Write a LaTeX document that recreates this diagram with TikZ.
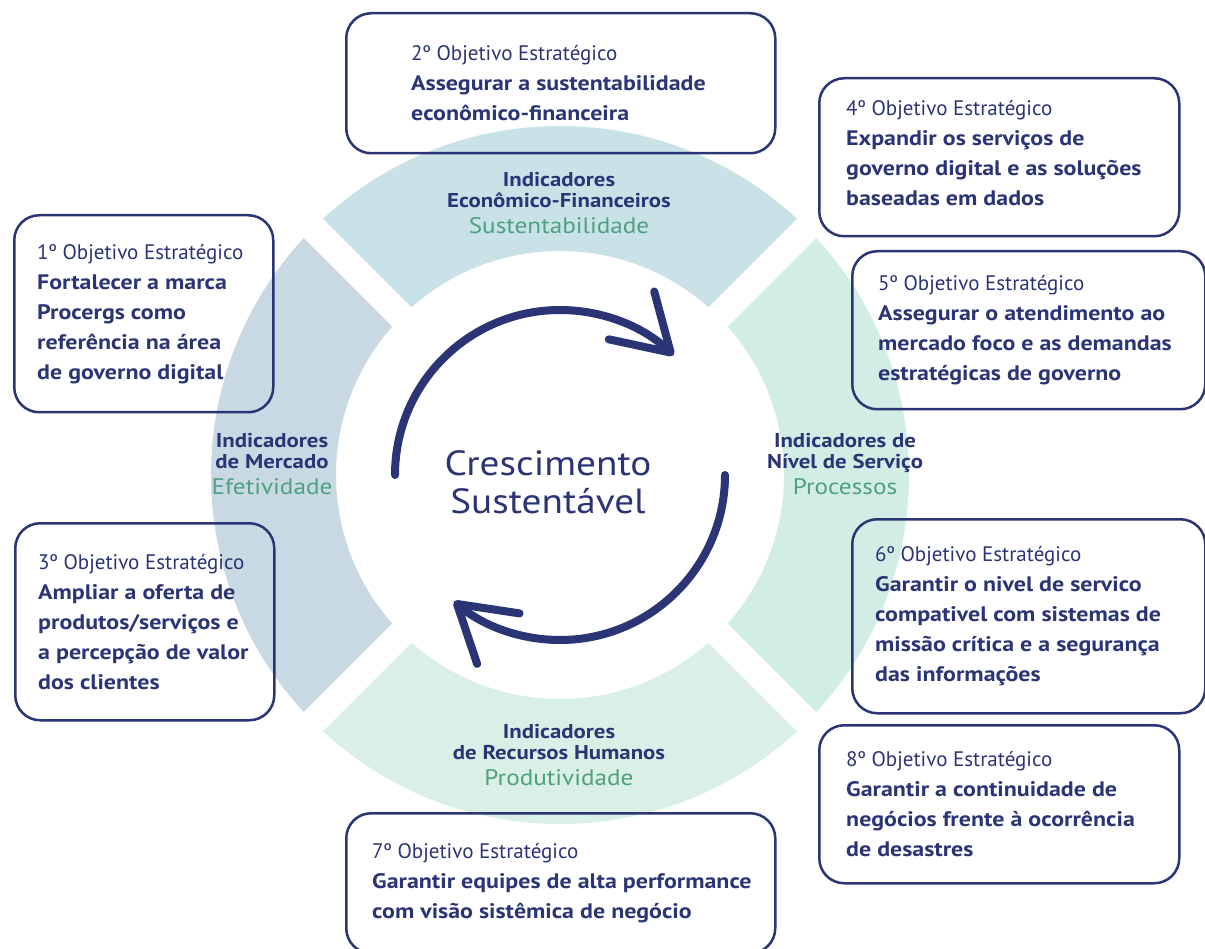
\documentclass[tikz,border=0pt]{standalone}
\usepackage{fontspec}
\setmainfont{PT Sans}[BoldFeatures={FakeStretch=1.14}]
\newfontfamily\widefont{PT Sans}[FakeStretch=1.12]
\usepackage{tikz}
\usetikzlibrary{arrows.meta,calc,positioning}

\definecolor{navy}{HTML}{2B3575}
\definecolor{indgreen}{HTML}{4FA080}
\definecolor{segtop}{HTML}{C8E2E8}
\definecolor{segleft}{HTML}{C9D9E4}
\definecolor{segright}{HTML}{D2EDE6}
\definecolor{segbottom}{HTML}{DAEFE5}

\begin{document}
\begin{tikzpicture}[x=1pt, y=1pt,
	objbox/.style = {draw=navy, line width=2.5pt, rounded corners=25pt, anchor=north west, inner sep=0pt},
	objtext/.style = {anchor=west, align=left, inner sep=0pt, text=navy, font=\fontsize{21}{30}\selectfont\bfseries},
	indlabel/.style = {align=center, inner sep=0pt, text=navy, font=\fontsize{20}{21}\selectfont\bfseries},
	cyclearrow/.style = {draw=navy, line width=8pt, line cap=round, line join=round, -{Straight Barb[round, length=54pt, width=66pt]}}]
		\useasboundingbox[fill=white] (0,0) rectangle (1205,-949);
		\coordinate (c) at (560,-475);
		\foreach \a/\col in {45/segtop, 135/segleft, 225/segbottom, 315/segright}
			\fill[\col] ($(c)+(\a:349pt)$) arc[start angle=\a, end angle=\a+90, radius=349pt] -- ($(c)+({\a+90}:224pt)$) arc[start angle=\a+90, end angle=\a, radius=224pt] -- cycle;
		\foreach \a in {45, 135, 225, 315}
			\draw[white, line width=27pt] (c) -- ++(\a:380pt);
		\node[indlabel] (indtop) at (559,-203) {Indicadores\\Econômico-Financeiros\\[5pt]{\color{indgreen}\widefont\fontsize{22.5}{26}\selectfont\mdseries Sustentabilidade}};
		\node[indlabel] (indleft) at (272,-464) {Indicadores\\de Mercado\\[5pt]{\color{indgreen}\widefont\fontsize{22.5}{26}\selectfont\mdseries Efetividade}};
		\node[indlabel] (indright) at (845,-464) {Indicadores de\\Nível de Serviço\\[5pt]{\color{indgreen}\widefont\fontsize{22.5}{26}\selectfont\mdseries Processos}};
		\node[indlabel] (indbottom) at (559,-755) {Indicadores\\de Recursos Humanos\\[5pt]{\color{indgreen}\widefont\fontsize{22.5}{26}\selectfont\mdseries Produtividade}};
		\node[align=center, inner sep=0pt, text=navy, font=\widefont\fontsize{35}{38}\selectfont] (centro) at (548,-482) {Crescimento\\Sustentável};
		\draw[cyclearrow] ($(c)+(180:165pt)$) arc[start angle=180, end angle=46.5, radius=165pt];
		\draw[cyclearrow] ($(c)+(0:165pt)$) arc[start angle=0, end angle=-130, radius=165pt];
		\node[objbox, minimum width=259pt, minimum height=197pt] (o1box) at (13,-214) {};
		\node[objbox, minimum width=429pt, minimum height=140pt] (o2box) at (345,-12) {};
		\node[objbox, minimum width=259pt, minimum height=197pt] (o3box) at (14,-522) {};
		\node[objbox, minimum width=360pt, minimum height=158pt] (o4box) at (818,-77) {};
		\node[objbox, minimum width=353pt, minimum height=158pt] (o5box) at (851,-250) {};
		\node[objbox, minimum width=353pt, minimum height=194pt] (o6box) at (851,-518) {};
		\node[objbox, minimum width=429pt, minimum height=140pt] (o7box) at (345,-812) {};
		\node[objbox, minimum width=360pt, minimum height=158pt] (o8box) at (818,-724) {};
		\node[objtext, right=24pt of o1box.west] (o1) {{\mdseries 1º Objetivo Estratégico}\\Fortalecer a marca\\Procergs como\\referência na área\\de governo digital};
		\node[objtext, right=66pt of o2box.west] (o2) {{\mdseries 2º Objetivo Estratégico}\\Assegurar a sustentabilidade\\econômico-financeira};
		\node[objtext, right=24pt of o3box.west] (o3) {{\mdseries 3º Objetivo Estratégico}\\Ampliar a oferta de\\produtos/serviços e\\a percepção de valor\\dos clientes};
		\node[objtext, right=28pt of o4box.west, yshift=4pt] (o4) {{\mdseries 4º Objetivo Estratégico}\\Expandir os serviços de\\governo digital e as soluções\\baseadas em dados};
		\node[objtext, right=27pt of o5box.west] (o5) {{\mdseries 5º Objetivo Estratégico}\\Assegurar o atendimento ao\\mercado foco e as demandas\\estratégicas de governo};
		\node[objtext, right=24pt of o6box.west] (o6) {{\mdseries 6º Objetivo Estratégico}\\Garantir o nivel de servico\\compativel com sistemas de\\missão crítica e a segurança\\das informações};
		\node[objtext, right=27pt of o7box.west] (o7) {{\mdseries 7º Objetivo Estratégico}\\Garantir equipes de alta performance\\com visão sistêmica de negócio};
		\node[objtext, right=28pt of o8box.west] (o8) {{\mdseries 8º Objetivo Estratégico}\\Garantir a continuidade de\\negócios frente à ocorrência\\de desastres};
\end{tikzpicture}
\end{document}
